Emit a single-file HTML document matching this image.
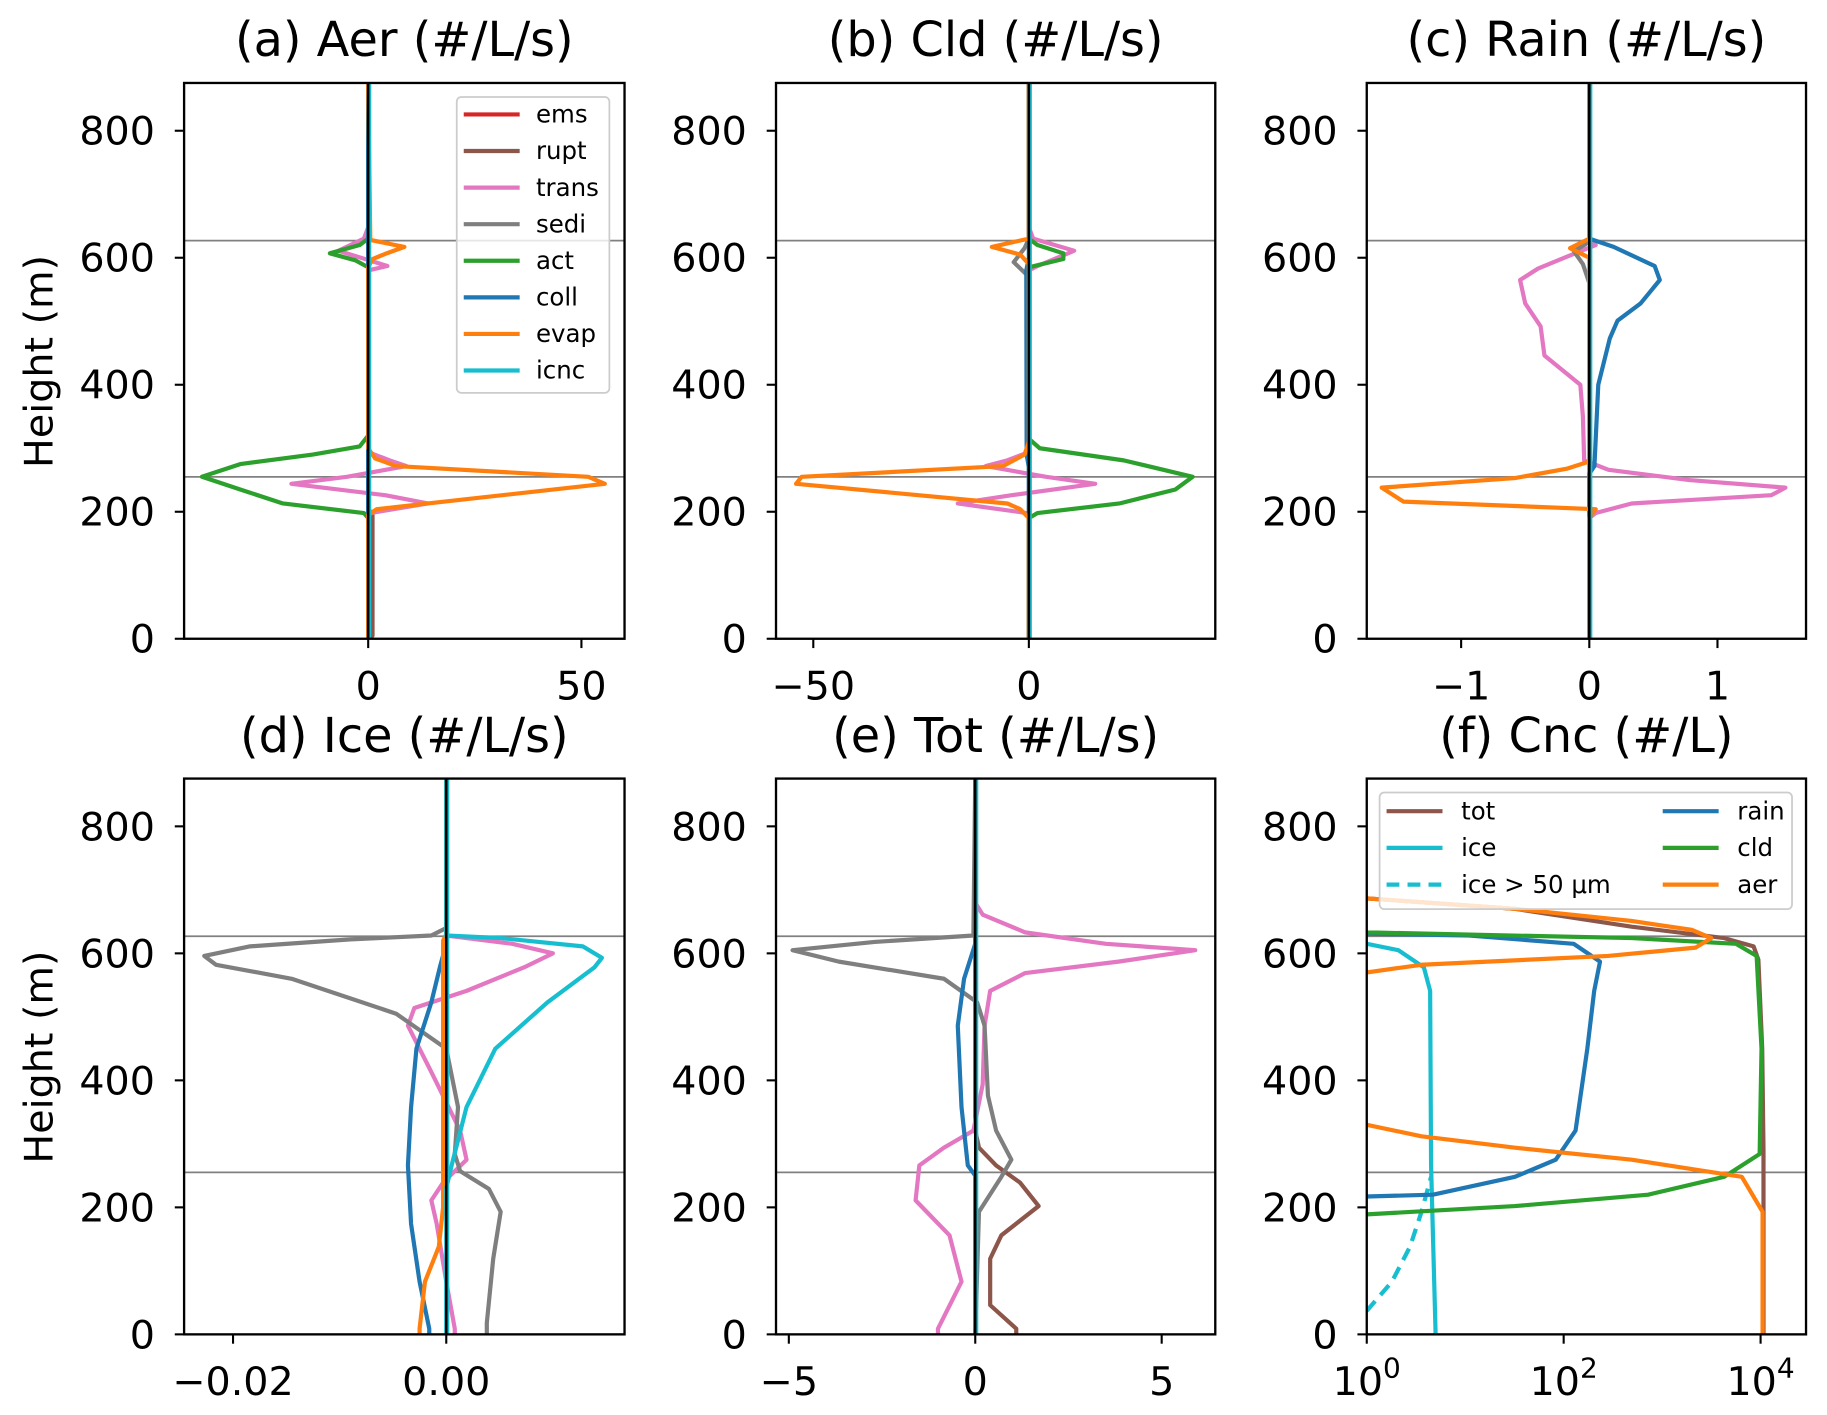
<!DOCTYPE html>
<html><head><meta charset="utf-8"><style>
html,body{margin:0;padding:0;background:#fff}
svg{display:block;font-family:"DejaVu Sans","Liberation Sans",sans-serif}
</style></head><body>
<svg id="fig" xmlns="http://www.w3.org/2000/svg" width="1827" height="1415" viewBox="0 0 1568 1214"></svg>
<script>
// ---- data (value arrays vs height in m) ----
const hZero=[0,875], vZero=[0,0];
// (a) Aer
const aRupt_h=[0,5,195,205,875], aRupt_v=[0.3,1,1,0,0];
const aTrans_h=[0,190,198,213,226,244,255,272,281,294,580,587,611,630,648,875], aTrans_v=[0,0,0.5,14,4,-18,-5,9,5,0,0,4.5,-7,-1,0,0];
const aAct_h=[0,190,198,213,235,255,275,290,303,320,585,596,607,620,630,875], aAct_v=[0,0,-1,-20,-30,-39,-30,-13,-2,0,0,-3,-9,-2,0,0];
const aEvap_h=[0,195,204,213,244,255,272,284,300,585,598,606,617,628,875], aEvap_v=[0,0,2,14,55.5,51.6,6.5,1.6,0,0,1,4,8.5,0.5,0];
// (b) Cld
const bTrans_h=[0,190,198,213,226,244,255,272,281,294,580,587,611,630,648,875], bTrans_v=[0,0,-0.5,-16.5,-4,15.4,4,-10,-5,0,0,2,10.5,1,0,0];
const bSedi_h=[0,570,593,615,630,875], bSedi_v=[0,0,-3.5,-1,0,0];
const bAct_h=[0,190,198,213,235,255,281,300,315,585,598,607,620,630,875], bAct_v=[0,0,2,21,34,38,22,2.5,0,0,8,8,2,0,0];
const bColl_h=[0,270,290,580,600,875], bColl_v=[0,0,-0.5,-0.6,0,0];
const bEvap_h=[0,190,204,213,244,255,272,290,310,590,605,617,630,875], bEvap_v=[0,0,-2,-5,-54,-52.7,-6,-1,0,0,-2,-8.6,0,0];
// (c) Rain
const cTrans_h=[0,190,198,213,226,238,250,266,281,350,400,446,492,528,565,583,602,620,630,875], cTrans_v=[0,0,0.05,0.33,1.42,1.53,0.78,0.15,-0.04,-0.05,-0.07,-0.35,-0.38,-0.5,-0.54,-0.4,-0.17,0.05,0,0];
const cSedi_h=[0,560,590,610,625,875], cSedi_v=[0,0,-0.05,-0.12,0,0];
const cColl_h=[0,260,272,400,473,501,528,565,587,617,630,875], cColl_v=[0,0,0.04,0.07,0.16,0.22,0.4,0.55,0.51,0.19,0,0];
const cEvap_h=[0,190,204,216,238,253,268,279,600,615,630,875], cEvap_v=[0,0,0.05,-1.45,-1.62,-0.58,-0.17,0,0,-0.15,0,0];
// (d) Ice
const dTrans_h=[0,9,83,174,211,239,275,321,413,486,514,541,578,600,615,628,875], dTrans_v=[0.0008,0.0008,0,-0.0009,-0.0014,-0.0003,0.0019,0.0013,-0.0014,-0.0036,-0.003,0.0019,0.0073,0.01,0.0062,0,0];
const dSedi_h=[0,18,119,193,229,257,284,358,450,505,560,582,596,611,622,628,640,875], dSedi_v=[0.0038,0.0038,0.0044,0.0051,0.004,0.0013,0.0008,0.0011,0,-0.0047,-0.0145,-0.0216,-0.0227,-0.0184,-0.009,-0.0014,0,0];
const dColl_h=[0,9,83,174,266,358,450,523,578,615,875], dColl_v=[-0.0016,-0.0016,-0.0025,-0.0033,-0.0036,-0.0033,-0.0028,-0.0014,-0.0006,0,0];
const dEvap_h=[0,9,83,138,200,620,630,875], dEvap_v=[-0.0025,-0.0025,-0.002,-0.0007,-0.0003,-0.0003,0,0];
const dIcnc_h=[0,230,266,358,450,523,578,593,611,624,628,875], dIcnc_v=[0,0,0.0005,0.0019,0.0046,0.0095,0.0139,0.0146,0.0128,0.0051,0,0];
// (e) Tot
const eTot_h=[0,9,46,119,156,202,239,266,294,321,875], eTot_v=[1.1,1.1,0.4,0.4,0.7,1.7,1.2,0.56,0.1,0,0];
const eTrans_h=[0,9,83,156,211,266,294,321,394,486,541,569,587,605,615,633,661,680], eTrans_v=[-1,-1,-0.37,-0.69,-1.6,-1.5,-0.84,-0.05,0.2,0.25,0.4,1.34,3.84,5.9,3.5,1.34,0.2,0];
const eSedi_h=[0,193,248,275,321,376,486,523,560,587,605,618,628,875], eSedi_v=[0,0.1,0.7,0.97,0.56,0.34,0.25,0.05,-0.84,-3.66,-4.9,-2.7,-0.05,0];
const eColl_h=[0,250,266,358,486,560,615,875], eColl_v=[0,0,-0.2,-0.37,-0.47,-0.3,0,0];
// (f) Cnc
const fTot_h=[0,290,450,590,611,624,642,670,690], fTot_v=[10700,10700,10400,9500,8500,4266,490,32,0.5];
const fIce_h=[0,266,541,578,605,615,625], fIce_v=[5,4.5,4.4,3.8,2.1,1,0.5];
const fIce50_h=[37,83,138,193,248], fIce50_v=[1,1.8,2.75,3.6,4.5];
const fRain_h=[215,217,220,248,275,321,450,541,587,615,628,631,640], fRain_v=[0.5,1,4.7,32,83,132,174,204,234,126,11,1,0.5];
const fCld_h=[185,189,202,220,248,284,450,596,615,624,633,640], fCld_v=[0.5,1,32,724,4266,9772,10233,9120,5623,490,1,0.5];
const fAer_h=[0,193,248,275,294,312,330,345,555,569,582,596,609,624,637,651,670,690], fAer_v=[10471,10471,6457,490,32,3.6,1,0.5,0.5,0.9,3.6,282,2188,3162,2000,490,32,0.5];
const yTicks=[0,200,400,600,800];
const hLines=[627,255];

const C={red:'#d62728',brown:'#8c564b',pink:'#e377c2',gray:'#7f7f7f',green:'#2ca02c',blue:'#1f77b4',orange:'#ff7f0e',cyan:'#17becf'};
const NS='http://www.w3.org/2000/svg';
const fig=document.getElementById('fig');
function el(tag,attrs,parent){const e=document.createElementNS(NS,tag);for(const k in attrs)e.setAttribute(k,attrs[k]);(parent||fig).appendChild(e);return e;}

const panels=[
 {id:'a',title:'(a) Aer (#/L/s)',x0:158,x1:536,top:71,bot:548,zx:316,k:3.66,xt:[0,50],xl:['0','50'],
  series:[[hZero,vZero,C.red,'ems'],[aRupt_h,aRupt_v,C.brown,'rupt'],[aTrans_h,aTrans_v,C.pink,'trans'],[hZero,vZero,C.gray,'sedi'],[aAct_h,aAct_v,C.green,'act'],[hZero,vZero,C.blue,'coll'],[aEvap_h,aEvap_v,C.orange,'evap']]},
 {id:'b',title:'(b) Cld (#/L/s)',x0:666,x1:1043,top:71,bot:548,zx:883,k:3.7,xt:[-50,0],xl:['\u221250','0'],
  series:[[bTrans_h,bTrans_v,C.pink,'trans'],[bSedi_h,bSedi_v,C.gray,'sedi'],[bAct_h,bAct_v,C.green,'act'],[bColl_h,bColl_v,C.blue,'coll'],[bEvap_h,bEvap_v,C.orange,'evap']]},
 {id:'c',title:'(c) Rain (#/L/s)',x0:1173,x1:1550,top:71,bot:548,zx:1364,k:110,xt:[-1,0,1],xl:['\u22121','0','1'],
  series:[[cTrans_h,cTrans_v,C.pink,'trans'],[cSedi_h,cSedi_v,C.gray,'sedi'],[cColl_h,cColl_v,C.blue,'coll'],[cEvap_h,cEvap_v,C.orange,'evap']]},
 {id:'d',title:'(d) Ice (#/L/s)',x0:158,x1:536,top:668,bot:1145,zx:383,k:9150,xt:[-0.02,0],xl:['\u22120.02','0.00'],
  series:[[dTrans_h,dTrans_v,C.pink,'trans'],[dSedi_h,dSedi_v,C.gray,'sedi'],[dColl_h,dColl_v,C.blue,'coll'],[dEvap_h,dEvap_v,C.orange,'evap'],[dIcnc_h,dIcnc_v,C.cyan,'icnc']]},
 {id:'e',title:'(e) Tot (#/L/s)',x0:666,x1:1043,top:668,bot:1145,zx:837,k:32,xt:[-5,0,5],xl:['\u22125','0','5'],
  series:[[eTot_h,eTot_v,C.brown,'tot'],[eTrans_h,eTrans_v,C.pink,'trans'],[eSedi_h,eSedi_v,C.gray,'sedi'],[eColl_h,eColl_v,C.blue,'coll']]},
 {id:'f',title:'(f) Cnc (#/L)',x0:1173,x1:1550,top:668,bot:1145,log:true,zx:1173,k:84.5,xt:[1,100,10000],xl:['0','2','4'],
  series:[[fTot_h,fTot_v,C.brown,'tot'],[fIce_h,fIce_v,C.cyan,'ice'],[fIce50_h,fIce50_v,C.cyan,'ice50',true],[fRain_h,fRain_v,C.blue,'rain'],[fCld_h,fCld_v,C.green,'cld'],[fAer_h,fAer_v,C.orange,'aer']]}
];
const ky=0.545;
panels.forEach(p=>{
  const g=el('g',{});
  
  
  const X=v=>p.log?p.zx+p.k*Math.log10(v):p.zx+p.k*v;
  const Y=h=>p.bot-ky*h;
  const cp=el('clipPath',{id:'clip'+p.id},g);
  el('rect',{x:p.x0,y:p.top,width:p.x1-p.x0,height:p.bot-p.top},cp);
  const pl=el('g',{'clip-path':'url(#clip'+p.id+')'},g);
  hLines.forEach(h=>{const l=el('line',{x1:p.x0,x2:p.x1,y1:Y(h),y2:Y(h),stroke:'#808080','stroke-width':1.5},pl);
    
    });
  p.series.forEach(s=>{
    const [hs,vs,col,nm,dash]=s;
    const pts=hs.map((h,i)=>X(vs[i]).toFixed(1)+','+Y(h).toFixed(1)).join(' ');
    const line=el('polyline',{points:pts,fill:'none',stroke:col,'stroke-width':3.6,'stroke-linejoin':'round'},pl);
    if(dash)line.setAttribute('stroke-dasharray','11,7');
    
    
  });
  if(!p.log){
    const cy=el('line',{x1:X(0)+1.5,x2:X(0)+1.5,y1:p.top,y2:p.bot,stroke:C.cyan,'stroke-width':2.2},pl);
    
    
    const zl=el('line',{x1:X(0),x2:X(0),y1:p.top,y2:p.bot,stroke:'#000','stroke-width':2.2},pl);
    
    
  }
  const fr=el('rect',{x:p.x0,y:p.top,width:p.x1-p.x0,height:p.bot-p.top,fill:'none',stroke:'#000','stroke-width':2},g);
  
  
  yTicks.forEach(t=>{
    el('line',{x1:p.x0-8,x2:p.x0,y1:Y(t),y2:Y(t),stroke:'#000','stroke-width':1.8},g);
    const tx=el('text',{x:p.x0-25,y:Y(t)+12,'text-anchor':'end','font-size':34},g);
    tx.textContent=t;
    
    
  });
  p.xt.forEach((t,i)=>{
    const x=X(t);
    el('line',{x1:x,x2:x,y1:p.bot,y2:p.bot+8,stroke:'#000','stroke-width':1.8},g);
    const tx=el('text',{x:x,y:p.bot+52,'text-anchor':'middle','font-size':34},g);
    if(p.log){tx.textContent='10';const sp=el('tspan',{dy:-15,'font-size':24},tx);sp.textContent=p.xl[i];}
    else tx.textContent=p.xl[i];
    
    
  });
  const tt=el('text',{x:(p.x0+p.x1)/2,y:p.top-23,'text-anchor':'middle','font-size':41},g);
  tt.textContent=p.title;
  
  
});
// y-axis titles
[[310,'y-axis-title-top'],[907,'y-axis-title-bottom']].forEach(a=>{
  const t=el('text',{x:0,y:0,transform:'translate(45,'+a[0]+') rotate(-90)','text-anchor':'middle','font-size':34});
  t.textContent='Height (m)';
  
  
});
// legend a
const legA=el('g',{});


el('rect',{x:392,y:83,width:131,height:254,rx:4,fill:'rgba(255,255,255,0.8)',stroke:'#ccc','stroke-width':1.5},legA);
[['ems',C.red],['rupt',C.brown],['trans',C.pink],['sedi',C.gray],['act',C.green],['coll',C.blue],['evap',C.orange],['icnc',C.cyan]].forEach((e,i)=>{
  const y=98+i*31.4;
  el('line',{x1:398,x2:446,y1:y,y2:y,stroke:e[1],'stroke-width':3.6},legA);
  const t=el('text',{x:460,y:y+7,'font-size':21},legA);t.textContent=e[0];
  
  
});
// legend f
const legF=el('g',{});


el('rect',{x:1184,y:680,width:354,height:100,rx:4,fill:'rgba(255,255,255,0.8)',stroke:'#ccc','stroke-width':1.5},legF);
[['tot',C.brown,0,0],['ice',C.cyan,0,1],['ice > 50 \u03bcm',C.cyan,0,2,true],['rain',C.blue,1,0],['cld',C.green,1,1],['aer',C.orange,1,2]].forEach(e=>{
  const x=e[2]?1427:1190, y=696+e[3]*31.5;
  const l=el('line',{x1:x,x2:x+48,y1:y,y2:y,stroke:e[1],'stroke-width':3.6},legF);
  if(e[4])l.setAttribute('stroke-dasharray','11,7');
  const t=el('text',{x:x+64,y:y+7,'font-size':21},legF);t.textContent=e[0];
  
  
});
</script>
</body></html>
